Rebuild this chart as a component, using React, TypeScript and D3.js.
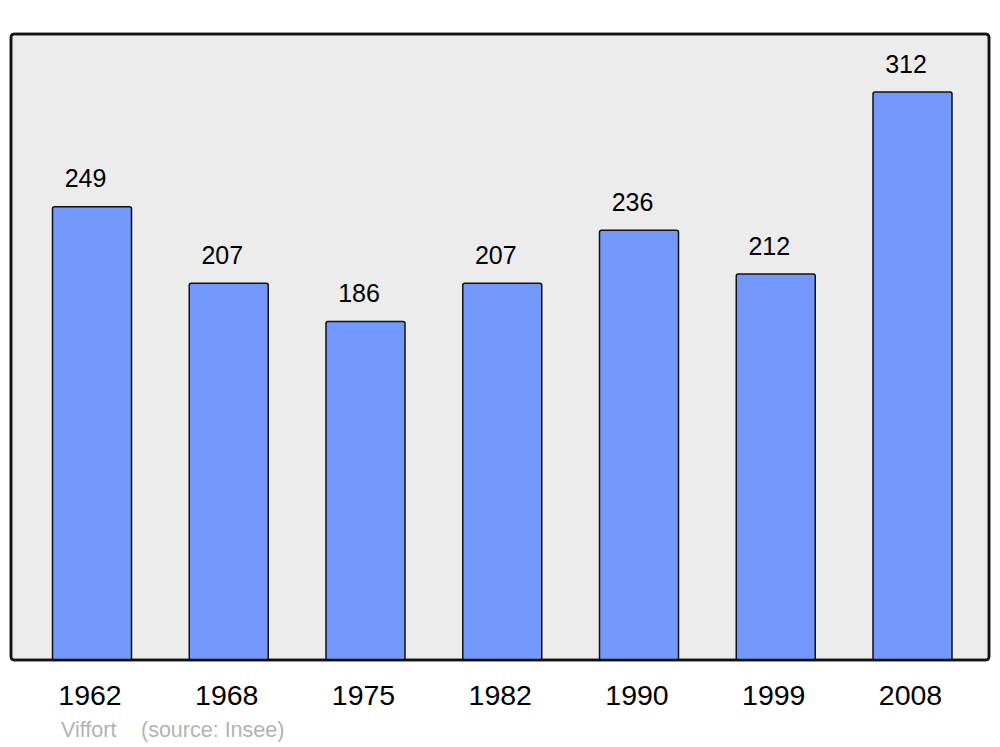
import React from "react";
import * as d3 from "d3";

const years = ["1962", "1968", "1975", "1982", "1990", "1999", "2008"];
const population = [249, 207, 186, 207, 236, 212, 312];
const placeName = "Viffort";
const sourceText = "(source: Insee)";

export default function App() {
  const W = 1000, H = 747;
  const x = d3.scalePoint<string>().domain(years).range([92, 912.5]);
  const y = d3.scaleLinear().domain([0, 312]).range([660, 92]);
  const bw = 79;
  const font = "'Liberation Sans', Arial, sans-serif";
  return (
    <svg width={W} height={H} style={{ position: "absolute", left: 0, top: 0 }}>
      <rect x={0} y={0} width={W} height={H} fill="#ffffff" />
      <rect x={11} y={34} width={978} height={626} rx={3} fill="#ececec" stroke="#111" strokeWidth={2.5} />
      {years.map((yr, i) => {
        const cx = x(yr)!;
        const v = population[i];
        return (
          <g key={yr}>
            <rect x={cx - bw / 2} y={y(v)} width={bw} height={y(0) - y(v)} rx={2} fill="#7399ff" stroke="#111" strokeWidth={1.5} />
            <text x={cx - 6.5} y={y(v) - 19.5} textAnchor="middle" fontFamily={font} fontSize={25} fill="#000">{v}</text>
            <text x={cx - 2} y={705} textAnchor="middle" fontFamily={font} fontSize={28.5} fill="#000">{yr}</text>
          </g>
        );
      })}
      <rect x={11} y={34} width={978} height={626} rx={3} fill="none" stroke="#111" strokeWidth={2.5} />
      <text x={61} y={737} fontFamily={font} fontSize={21.5} fill="#b3b3b3">{placeName}</text>
      <text x={141} y={737} fontFamily={font} fontSize={21.5} fill="#b3b3b3">{sourceText}</text>
    </svg>
  );
}
